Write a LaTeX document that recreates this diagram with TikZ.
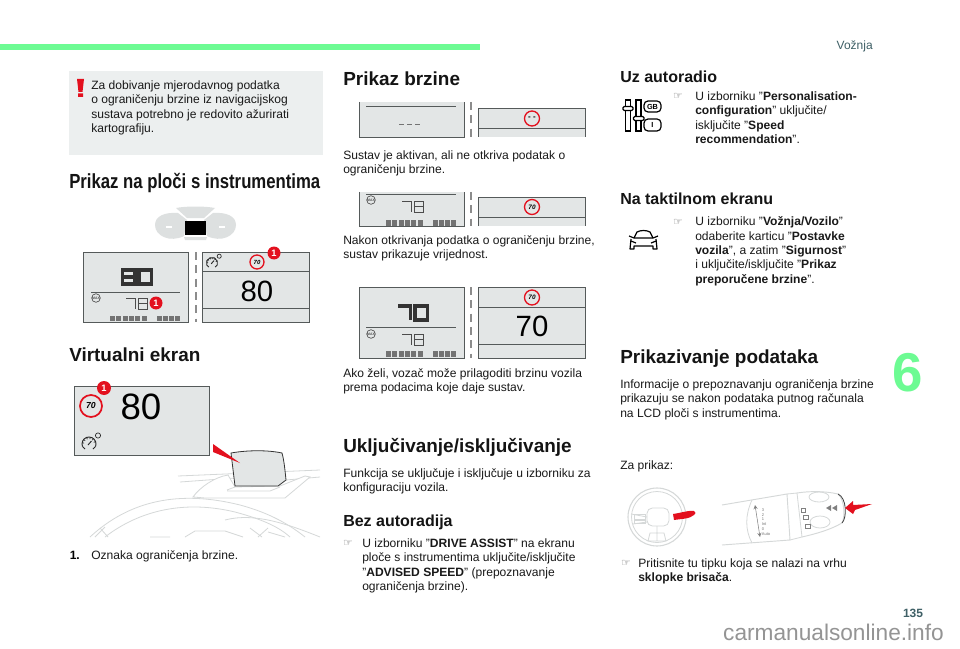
\documentclass[tikz,border=0pt]{standalone}
\usepackage{fontspec}
\setmainfont{Liberation Sans}
\newfontfamily\narrowbold[FakeStretch=0.82]{Liberation Sans Bold}
\newfontfamily\symb{DejaVu Sans}
\definecolor{panelgray}{HTML}{E3E6E6}
\definecolor{boxgray}{HTML}{ECEFEF}
\definecolor{edgegray}{HTML}{555A5A}
\definecolor{redmark}{HTML}{E3101E}
\definecolor{greenbar}{HTML}{6DFB93}
\definecolor{palel}{HTML}{D5D8D8}
\definecolor{teal6}{HTML}{3F6066}
\tikzset{
 x=0.75pt,y=-0.75pt,
 body/.style={anchor=north west,inner sep=0pt,align=left,yshift=-1.1pt,font=\fontsize{9.05}{10.8}\selectfont,text=black!90},
 headA/.style={anchor=west,inner sep=0pt,yshift=-0.75pt,font=\bfseries\fontsize{14.2}{16}\selectfont,text=black!92},
 headB/.style={anchor=west,inner sep=0pt,yshift=-0.5pt,font=\bfseries\fontsize{12}{14}\selectfont,text=black!92},
 headC/.style={anchor=west,inner sep=0pt,yshift=-0.75pt,font=\narrowbold\fontsize{15.3}{17}\selectfont,text=black!92},
 handb/.style={inner sep=0pt,font=\symb\fontsize{8}{9}\selectfont,text=black!60},
 panel/.style={draw=edgegray,line width=0.7pt,fill=panelgray},
 rule/.style={draw=edgegray,line width=0.6pt},
 divid/.style={draw=black!45,line width=0.9pt,dash pattern=on 6pt off 4pt},
 badge/.style={circle,fill=redmark,text=white,inner sep=0pt,font=\bfseries\fontsize{7}{8}\selectfont},
 signb/.style={circle,draw=redmark,fill=panelgray,line width=1pt,inner sep=0pt,text=black,font=\bfseries\itshape},
 bigno/.style={inner sep=0pt,text=black,font=\fontsize{22}{24}\selectfont},
 pale/.style={draw=palel,line width=0.6pt},
 seg/.style={draw=black!80,line width=2.6pt},
 segs/.style={draw=black!70,line width=0.55pt},
 iconl/.style={draw=black,line width=0.9pt},
}
% digits, #1,#2 = top-left corner
\newcommand\bigE[2]{\draw[seg] (#1,#2) rectangle ++(12.5,14); \draw[seg] (#1,#2+7)--++(12.5,0);}
\newcommand\bigO[2]{\draw[seg] (#1,#2) rectangle ++(12.5,14);}
\newcommand\bigS[2]{\draw[seg] (#1,#2)--++(12.5,0)--++(0,14);}
\newcommand\smlS[2]{\draw[segs] (#1,#2)--++(9,0)--++(0,11);}
\newcommand\smlO[2]{\draw[segs] (#1,#2) rectangle ++(9,11); \draw[segs] (#1,#2+5.5)--++(9,0);}
\newcommand\dotbar[2]{%
 \foreach \i in {0,...,5}{\fill[black!55] (#1+\i*6.3,#2) rectangle ++(5,5.5);}
 \foreach \i in {0,...,3}{\fill[black!55] (#1+46.5+\i*6.3,#2) rectangle ++(5,5.5);}}
\newcommand\maxicon[2]{\draw[black!70,line width=0.5pt] (#1,#2) circle (4.3);
 \node[name=mx#1,inner sep=0pt,font=\bfseries\fontsize{2.6}{3}\selectfont,text=black!70] at (#1,#2) {MAX};}
\newcommand\gauge[3]{\begin{scope}[shift={(#1,#2)},scale=#3]
 \draw[black!85,line width=0.7pt] (160:7) arc (160:380:7);
 \draw[black!85,line width=0.6pt] (-6.6,2.4)--(-4,5) (6.6,2.4)--(4,5);
 \foreach \a in {190,220,250,280,310,340}{\draw[black!85,line width=0.5pt] (\a:5)--(\a:7);}
 \draw[black!85,line width=0.7pt] (-1,1)--(2.5,-3);
 \draw[black!85,line width=0.5pt] (9,-8.5) circle (2.6);
 \end{scope}}
\begin{document}
\begin{tikzpicture}
\useasboundingbox (0,0) rectangle (960,649);
\fill[white] (0,0) rectangle (960,649);
\fill[greenbar] (0,44) rectangle (480,50);
% warning box
\fill[boxgray] (69,71) rectangle (323,155);
\fill[redmark] (77,79) -- (84,79) -- (82.5,92) -- (78.5,92) -- cycle (78,93.5) rectangle (83,97);
\node[body] (warn) at (91,79) {Za dobivanje mjerodavnog podatka\\o ograničenju brzine iz navigacijskog\\sustava potrebno je redovito ažurirati\\kartografiju.};
\node[headC] (h1) at (69,182) {Prikaz na ploči s instrumentima};
% cluster icon
\fill[palel!80] (155,225) .. controls (155,216) and (165,212) .. (178,213) -- (187,220) -- (184,236) .. controls (170,243) and (155,236) .. (155,225) -- cycle;
\fill[palel!80] (236,225) .. controls (236,216) and (226,212) .. (213,213) -- (204,220) -- (207,236) .. controls (221,243) and (236,236) .. (236,225) -- cycle;
\fill[palel!80] (176,208) .. controls (186,206) and (205,206) .. (215,208) -- (204,218) -- (187,218) -- cycle;
\fill[palel!80] (184,237) -- (207,237) -- (206,240) -- (185,240) -- cycle;
\fill[black] (185,221) rectangle (206,235);
\draw[white,line width=0.8pt] (166,227)--(172,227) (219,227)--(225,227);
% panel 1
\path[panel] (83.5,252) rectangle (188,322);
\path[rule] (91,292)--(180,292);
\bigE{122.5}{270}\bigO{139}{270}
\maxicon{96}{298}
\smlS{126}{298}\smlO{138}{298}
\dotbar{110}{315.5}
\node[badge,minimum size=13pt*0.75] (b1) at (156,303) {1};
\draw[divid] (196,252)--(196,322);
\path[panel] (202.7,252) rectangle (309,322);
\path[rule] (202.7,271)--(309,271) (202.7,308)--(309,308);
\gauge{212}{263}{0.8}
\node[signb,minimum size=14pt*0.75,font=\bfseries\itshape\fontsize{4.5}{5}\selectfont] (s1) at (257,262) {70};
\node[badge,minimum size=13pt*0.75] (b2) at (274,253) {1};
\node[bigno] (n1) at (257,291) {80};
\node[headA] (h2) at (69,354) {Virtualni ekran};
% HUD
\path[panel] (74,386) rectangle (209,455);
\node[signb,minimum size=22pt*0.75,line width=1.3pt,font=\bfseries\itshape\fontsize{6.5}{7}\selectfont,fill=panelgray] (s2) at (91,406) {70};
\node[badge,minimum size=14pt*0.75] (b3) at (104,388) {1};
\node[bigno,font=\fontsize{27.5}{30}\selectfont] (n2) at (141,407) {80};
\gauge{89}{444}{1}
\draw[pale] (178,476)--(320,470) (180,482)--(235,478) (286,480)--(320,477);
\draw[pale,fill=white] (193,497) .. controls (200,487) and (215,477) .. (228,475) -- (235,487) -- (280,486) -- (305,476) -- (310,477) -- (285,498) -- (205,498) -- cycle;
\draw[pale] (227,490)--(235,487) (227,491)--(270,491)--(280,487);
\fill[panelgray] (231,453) .. controls (248,450) and (268,450) .. (282,453) .. controls (284,460) and (285,470) .. (286,480) -- (278,486) -- (235,486) -- cycle;
\draw[black!80,line width=0.6pt] (231,453) .. controls (248,450) and (268,450) .. (282,453) .. controls (284,460) and (285,470) .. (286,480) -- (278,486) -- (235,486) -- cycle;
\fill[redmark] (213,444) -- (213,452) -- (240,463) -- cycle;
\draw[pale] (90,537) .. controls (130,500) and (180,490) .. (240,505) .. controls (270,513) and (290,525) .. (305,537);
\draw[pale] (105,537) .. controls (140,510) and (185,500) .. (235,512) .. controls (265,520) and (280,528) .. (290,537);
\draw[pale] (225,520) .. controls (255,512) and (290,525) .. (320,537);
\draw[pale] (95,537)--(105,527) (100,528)--(108,537) (150,537)--(170,537) (185,537)--(195,531)--(225,531)--(243,537) (250,528)--(262,537) (258,537)--(268,528) (268,532)--(285,537);
\node[inner sep=0pt,anchor=north west,yshift=-1.1pt,font=\bfseries\fontsize{9.05}{10.8}\selectfont] (one) at (69.5,549) {1.};
\node[body] (cap1) at (91,549) {Oznaka ograničenja brzine.};
% column 2
\node[headA] (h3) at (343,78) {Prikaz brzine};
% row 1
\fill[panelgray] (359,102) rectangle (464,137);
\draw[edgegray,line width=0.7pt] (359,102)--(359,137)--(464,137)--(464,102);
\path[rule] (366,106)--(456,106);
\draw[black!55,line width=0.7pt,dash pattern=on 3.5pt off 2.5pt] (399,124)--(423,124);
\draw[divid] (471,102)--(471,137);
\fill[panelgray] (478,108) rectangle (585,137);
\draw[edgegray,line width=0.7pt] (478,137)--(478,108)--(585,108)--(585,137);
\path[rule] (478,128)--(585,128);
\node[signb,minimum size=15pt*0.75,font=\bfseries\fontsize{6}{6}\selectfont] (s3) at (532,118.5) {- -};
\node[body] (t1) at (343,149) {Sustav je aktivan, ali ne otkriva podatak o\\ograničenju brzine.};
% row 2
\fill[panelgray] (359,192) rectangle (464,226);
\draw[edgegray,line width=0.7pt] (359,192)--(359,226)--(464,226)--(464,192);
\path[rule] (366,194)--(456,194);
\maxicon{371}{200}
\smlS{402}{201}\smlO{414}{201}
\dotbar{386}{220}
\draw[divid] (471,192)--(471,226);
\fill[panelgray] (478,197) rectangle (585,226);
\draw[edgegray,line width=0.7pt] (478,226)--(478,197)--(585,197)--(585,226);
\path[rule] (478,217)--(585,217);
\node[signb,minimum size=15pt*0.75,font=\bfseries\itshape\fontsize{4.8}{5}\selectfont] (s4) at (532,207) {70};
\node[body] (t2) at (343,233.5) {Nakon otkrivanja podatka o ograničenju brzine,\\sustav prikazuje vrijednost.};
% row 3
\path[panel] (359,287) rectangle (464,358);
\path[rule] (366,327.5)--(456,327.5);
\bigS{398}{306}\bigO{415}{306}
\maxicon{371}{334}
\smlS{402}{334}\smlO{414}{334}
\dotbar{386}{351}
\draw[divid] (471,287)--(471,358);
\path[panel] (478,287) rectangle (585,358);
\path[rule] (478,307)--(585,307) (478,344)--(585,344);
\node[signb,minimum size=15pt*0.75,font=\bfseries\itshape\fontsize{4.8}{5}\selectfont] (s5) at (532,297.5) {70};
\node[bigno] (n3) at (532,326) {70};
\node[body] (t3) at (343,367) {Ako želi, vozač može prilagoditi brzinu vozila\\prema podacima koje daje sustav.};
\node[headA] (h4) at (343,446) {Uključivanje/isključivanje};
\node[body] (t4) at (343,467) {Funkcija se uključuje i isključuje u izborniku za\\konfiguraciju vozila.};
\node[headB] (h5) at (343,522) {Bez autoradija};
\node[handb] (f1) at (348,543) {☞};
\node[body] (t5) at (362,537) {U izborniku "\textbf{DRIVE ASSIST}" na ekranu\\ploče s instrumentima uključite/isključite\\"\textbf{ADVISED SPEED}" (prepoznavanje\\ograničenja brzine).};
% column 3
\node[headB] (h6) at (620,76) {Uz autoradio};
\draw[iconl] (625.5,100) rectangle (630.5,131) (636,100) rectangle (641,131);
\draw[iconl,fill=white,rounded corners=1pt] (623,106.5) rectangle (633,110.5) (633.5,116.5) rectangle (644,120.5);
\node[iconl,rounded corners=3pt,minimum width=17pt*0.75,minimum height=11pt*0.75,inner sep=0pt,font=\bfseries\fontsize{5.5}{6}\selectfont] (gb) at (652.5,106.5) {GB};
\node[iconl,rounded corners=3pt,minimum width=17pt*0.75,minimum height=12pt*0.75,inner sep=0pt,font=\bfseries\fontsize{5.5}{6}\selectfont] (ib) at (652.5,125) {I};
\node[handb] (f2) at (678,96) {☞};
\node[body] (t6) at (695,90) {U izborniku "\textbf{Personalisation-}\\\textbf{configuration}" uključite/\\isključite "\textbf{Speed}\\\textbf{recommendation}".};
\node[headB] (h7) at (620,198) {Na taktilnom ekranu};
\begin{scope}[iconl,line join=round]
\draw (634,238) -- (637,232) .. controls (641,230) and (646,230) .. (650,232) -- (653,238);
\draw (629,236) -- (634,238) -- (653,238) -- (658,236);
\draw (631,239) -- (630,249) -- (634,249) -- (634,246) -- (653,246) -- (653,249) -- (657,249) -- (656,239);
\draw (631,241) -- (636,243) (656,241) -- (651,243);
\end{scope}
\node[handb] (f3) at (678,222) {☞};
\node[body] (t7) at (695,215) {U izborniku "\textbf{Vožnja/Vozilo}"\\odaberite karticu "\textbf{Postavke}\\\textbf{vozila}", a zatim "\textbf{Sigurnost}"\\i uključite/isključite "\textbf{Prikaz}\\\textbf{preporučene brzine}".};
\node[headA] (h8) at (620,358) {Prikazivanje podataka};
\node[body] (t8) at (620,378) {Informacije o prepoznavanju ograničenja brzine\\prikazuju se nakon podataka putnog računala\\na LCD ploči s instrumentima.};
\node[body] (t9) at (620,459) {Za prikaz:};
% steering wheel
\draw[pale,line width=0.8pt] (657,517) circle (29);
\draw[pale] (657,517) circle (25.5);
\draw[pale,rounded corners=4pt] (647,508) rectangle (669,526);
\draw[pale] (647,517)--(631,514) (647,522)--(633,524) (657,526)--(657,541) (650,533)--(664,533)--(666,541)--(648,541)--cycle;
\draw[pale] (634,514) rectangle (645,519) (634,520) rectangle (645,523);
\fill[redmark] (673,514) .. controls (680,513) and (690,510) .. (694,511) .. controls (696,512) and (696,514) .. (694,515) .. controls (690,519) and (680,519) .. (674,520) -- cycle;
% stalk
\draw[pale,line width=0.7pt] (722,505) -- (787,494) -- (790,540) -- (722,545);
\draw[pale] (752,543) .. controls (745,530) and (745,515) .. (752,500);
\draw[pale] (787,494) -- (797,493) -- (802,537) -- (790,540);
\draw[pale,line width=0.7pt] (797,493) .. controls (810,491) and (825,491) .. (838,494) .. controls (845,500) and (845,518) .. (842,523) .. controls (830,530) and (815,534) .. (802,537);
\draw[black!75,line width=0.6pt] (838,494) .. controls (847,498) and (847,518) .. (842,523);
\draw[pale] (819,497) ellipse (10 and 5) (820,522) ellipse (10 and 6);
\fill[black!50] (826,508) -- (831,505) -- (831,511) -- cycle (832,508) -- (837,505) -- (837,511) -- cycle;
\draw[black!50,line width=0.4pt,<->,>=stealth] (755,505)--(760,537);
\node[inner sep=0pt,align=left,font=\fontsize{3}{3.6}\selectfont,text=black!55] (au) at (766,522) {3\\2\\1\\Int\\0\\Auto};
\draw[black!50,line width=0.4pt] (801,508) rectangle ++(4,4) (803,515) rectangle ++(5,4) (805,524) rectangle ++(5,4);
\fill[redmark] (845,508) -- (853,501) -- (853,505) -- (872,504) -- (855,510) -- (853,514) -- cycle;
\node[handb] (f4) at (626,563) {☞};
\node[body] (t10) at (638,557) {Pritisnite tu tipku koja se nalazi na vrhu\\\textbf{sklopke brisača}.};
% page furniture
\node[inner sep=0pt,anchor=east,text=teal6,font=\fontsize{9}{10}\selectfont] (v) at (873,46) {Vožnja};
\node[inner sep=0pt,text=greenbar,font=\bfseries\fontsize{41}{44}\selectfont] (six) at (908,373) {6};
\node[inner sep=0pt,text=teal6,font=\bfseries\fontsize{9}{10}\selectfont] (pg) at (913,613) {135};
\node[inner sep=0pt,anchor=east,text=black!42,font=\fontsize{17}{20}\selectfont] (wm) at (944,632) {carmanualsonline.info};
\end{tikzpicture}
\end{document}
